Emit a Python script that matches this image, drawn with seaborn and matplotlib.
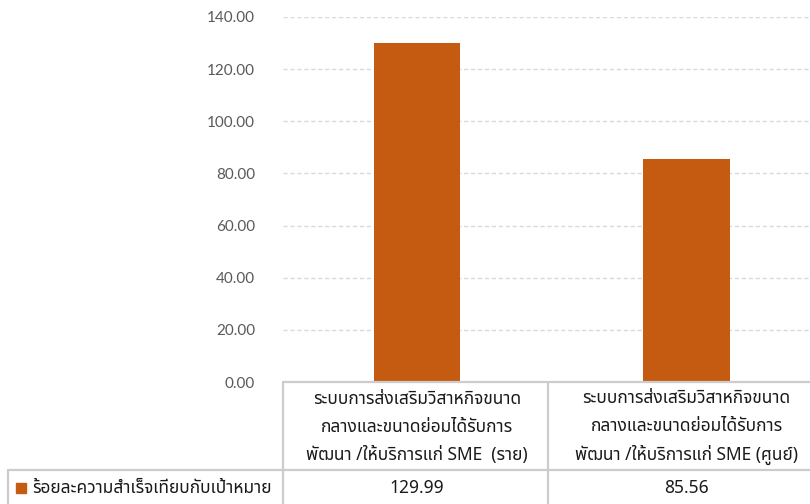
import matplotlib
matplotlib.use("Agg")
import matplotlib.pyplot as plt
import matplotlib.transforms as mtransforms
from matplotlib.lines import Line2D
from matplotlib.patches import Rectangle
import seaborn as sns
import pandas as pd

categories = [
    "ระบบการส่งเสริมวิสาหกิจขนาด\nกลางและขนาดย่อมได้รับการ\nพัฒนา /ให้บริการแก่ SME  (ราย)",
    "ระบบการส่งเสริมวิสาหกิจขนาด\nกลางและขนาดย่อมได้รับการ\nพัฒนา /ให้บริการแก่ SME (ศูนย์)",
]
values = [129.99, 85.56]
series_name = "ร้อยละความสำเร็จเทียบกับเป้าหมาย"
yticks = [0, 20, 40, 60, 80, 100, 120, 140]

sns.set_theme(style="white")
plt.rcParams["font.family"] = ["Noto Sans Thai", "DejaVu Sans"]

BAR = "#C55A11"
GRID = "#D9D9D9"
TABLE = "#CCCCCC"
TXT = "#1A1A1A"

W, H = 810, 504
fig = plt.figure(figsize=(W / 100, H / 100), dpi=100)
ax = fig.add_axes([283 / W, 1 - 382 / H, 1 - 283 / W, (382 - 17) / H])

df = pd.DataFrame({"cat": categories, "val": values})
sns.barplot(data=df, x="cat", y="val", color=BAR, width=0.32, ax=ax,
            saturation=1, edgecolor="none")

ax.set_ylim(0, 140)
ax.set_xlim(-0.497, 1.458)
ax.set_yticks(yticks)
ax.set_yticklabels([f"{v:.2f}" for v in yticks], color="#595959", fontsize=11,
                   family=["Lato", "DejaVu Sans"])
ax.tick_params(axis="y", length=0, pad=20)
ax.set_xticks([])
ax.set_xlabel("")
ax.set_ylabel("")
for s in ax.spines.values():
    s.set_visible(False)
for v in yticks[1:]:
    ax.axhline(v, color=GRID, lw=1, ls=(0, (3, 2)), zorder=0)

# data table below the axes
def fy(py):
    return 1 - py / H

def fx(px):
    return px / W

lines = [
    ((283, 810), (382, 382)),
    ((8, 810), (470, 470)),
    ((283, 283), (382, 504)),
    ((548, 548), (382, 504)),
    ((8, 8), (470, 504)),
]
for xs, ys in lines:
    fig.add_artist(Line2D([fx(x) for x in xs], [fy(y) for y in ys],
                          color=TABLE, lw=1.6))

trans = mtransforms.blended_transform_factory(ax.transData, fig.transFigure)
for i, (cat, val) in enumerate(zip(categories, values)):
    fig.text(i, fy(427), cat, transform=trans, ha="center", va="center",
             fontsize=12.5, color=TXT, linespacing=1.7)
    fig.text(i, fy(488), f"{val:.2f}", transform=trans, ha="center",
             va="center", fontsize=12.5, color=TXT)

fig.add_artist(Rectangle((fx(16), fy(493)), 10 / W, 10 / H, color=BAR,
                         transform=fig.transFigure))
fig.text(fx(32), fy(488), series_name, ha="left", va="center", fontsize=12.5,
         color=TXT)

fig.savefig("out.png", dpi=100)
